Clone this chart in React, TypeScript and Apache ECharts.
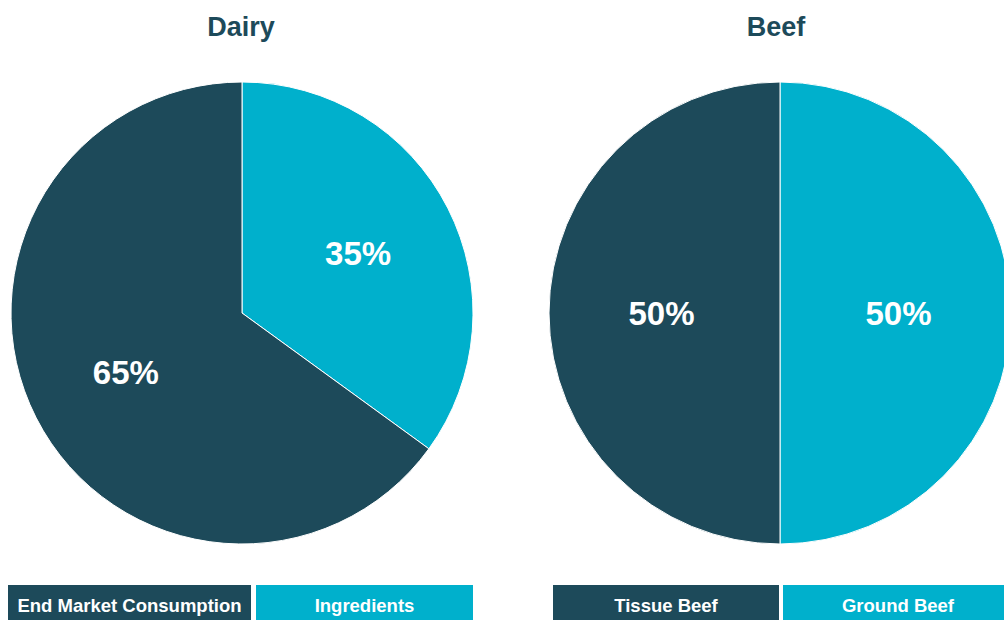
import React, { useEffect, useRef } from "react";
import * as echarts from "echarts";

const DARK = "#1d4a5a";
const CYAN = "#00b0cc";

const dairyTitle = "Dairy";
const dairyCategories = ["Ingredients", "End Market Consumption"];
const dairyValues = [35, 65];

const beefTitle = "Beef";
const beefCategories = ["Ground Beef", "Tissue Beef"];
const beefValues = [50, 50];

const FONT = "'Liberation Sans', Arial, Helvetica, sans-serif";

export default function App() {
  const ref = useRef<HTMLDivElement>(null);
  useEffect(() => {
    if (!ref.current) return;
    const chart = echarts.init(ref.current, undefined, { renderer: "svg" });
    const R = 231;
    const dairyC = [242, 313];
    const beefC = [780, 313];
    const makeSeries = (cats: string[], vals: number[], center: number[], spread: number) => ({
      type: "pie",
      center,
      radius: [0, R],
      startAngle: 90,
      clockwise: true,
      silent: true,
      label: {
        show: true,
        position: "inner",
        formatter: "{c}%",
        color: "#ffffff",
        fontFamily: FONT,
        fontWeight: "bold",
        fontSize: 33,
      },
      labelLine: { show: false },
      labelLayout: (p: any) => {
        const r = p.labelRect;
        const cx = r.x + r.width / 2;
        const cy = r.y + r.height / 2;
        return { dx: (cx - center[0]) * spread, dy: (cy - center[1]) * spread };
      },
      itemStyle: { borderColor: "#ffffff", borderWidth: 1 },
      data: cats.map((c, i) => ({
        name: c,
        value: vals[i],
        itemStyle: { color: i === 0 ? CYAN : DARK },
      })),
    });

    const legendBox = (x: number, w: number, color: string, text: string) => ({
      type: "group",
      children: [
        { type: "rect", shape: { x, y: 585, width: w, height: 40 }, style: { fill: color } },
        {
          type: "text",
          x: x + w / 2,
          y: 605,
          style: {
            text,
            fill: "#ffffff",
            font: `bold 18.5px ${FONT}`,
            textAlign: "center",
            textVerticalAlign: "middle",
          },
        },
      ],
    });

    chart.setOption({
      animation: false,
      backgroundColor: "#ffffff",
      title: [
        {
          text: dairyTitle,
          left: 236,
          top: 8,
          textAlign: "center",
          textStyle: { color: DARK, fontFamily: FONT, fontWeight: "bold", fontSize: 27 },
        },
        {
          text: beefTitle,
          left: 771,
          top: 8,
          textAlign: "center",
          textStyle: { color: DARK, fontFamily: FONT, fontWeight: "bold", fontSize: 27 },
        },
      ],
      series: [
        makeSeries(dairyCategories, dairyValues, dairyC, 0.1),
        makeSeries(beefCategories, beefValues, beefC, 0),
      ],
      graphic: [
        legendBox(8, 243, DARK, dairyCategories[1]),
        legendBox(256, 217, CYAN, dairyCategories[0]),
        legendBox(553, 226, DARK, beefCategories[1]),
        legendBox(783, 230, CYAN, beefCategories[0]),
      ],
    });
    return () => chart.dispose();
  }, []);
  return (
    <div
      ref={ref}
      style={{ position: "fixed", left: 0, top: 0, width: 1004, height: 620 }}
    />
  );
}
